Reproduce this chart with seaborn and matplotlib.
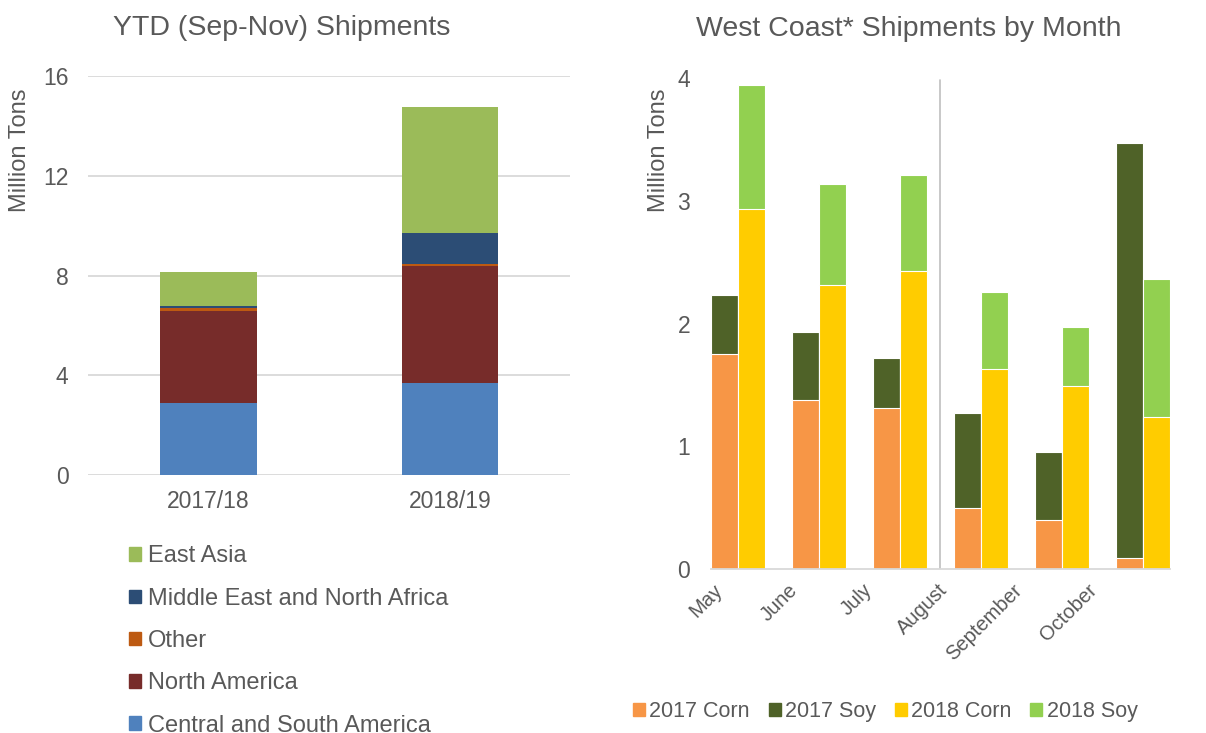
import matplotlib
matplotlib.use("Agg")
import matplotlib.pyplot as plt
from matplotlib.patches import Patch
from matplotlib.transforms import ScaledTranslation
import seaborn as sns
import pandas as pd
import numpy as np

# left chart: YTD shipments by destination (million tons)
seasons = ["2017/18", "2018/19"]
regions = ["Central and South America", "North America", "Other",
           "Middle East and North Africa", "East Asia"]
csa = [2.89, 3.68]
north_america = [3.70, 4.71]
other = [0.12, 0.07]
mena = [0.07, 1.24]
east_asia = [1.35, 5.05]
region_colors = ["#4F81BD", "#772C2A", "#BD5A12", "#2C4D75", "#9BBB59"]

# right chart: west coast shipments by month (million tons)
months = ["May", "June", "July", "August", "September", "October"]
corn_2017 = [1.75, 1.38, 1.31, 0.50, 0.40, 0.09]
soy_2017 = [0.48, 0.55, 0.41, 0.77, 0.55, 3.38]
corn_2018 = [2.93, 2.31, 2.43, 1.63, 1.49, 1.24]
soy_2018 = [1.01, 0.83, 0.78, 0.63, 0.48, 1.12]

grey = "#595959"
sns.set_theme(style="white")
plt.rcParams["font.family"] = ["Liberation Sans", "DejaVu Sans"]
plt.rcParams["text.color"] = grey
plt.rcParams["xtick.color"] = grey
plt.rcParams["ytick.color"] = grey
plt.rcParams["axes.labelcolor"] = grey

fig = plt.figure(figsize=(12.06, 7.33), dpi=100)
ax1 = fig.add_axes([0.073, 0.352, 0.400, 0.544])
ax2 = fig.add_axes([0.5896, 0.2237, 0.3804, 0.6699])

# ---- left: stacked bars drawn as overlapping cumulative sums
layers = [csa, north_america, other, mena, east_asia]
cum = np.cumsum(np.array(layers), axis=0)
for i in range(len(layers) - 1, -1, -1):
    sns.barplot(x=seasons, y=cum[i], color=region_colors[i], width=0.4,
                saturation=1, ax=ax1, edgecolor="none", linewidth=0)

ax1.set_ylim(0, 16)
ax1.set_xlim(-0.5, 1.5)
ax1.set_yticks([0, 4, 8, 12, 16])
ax1.yaxis.grid(True, color="#D9D9D9", linewidth=1.3)
ax1.set_axisbelow(True)
for s in ax1.spines.values():
    s.set_visible(False)
ax1.tick_params(axis="both", length=0, labelsize=16.5)
ax1.tick_params(axis="x", pad=11)
ax1.tick_params(axis="y", pad=14)
ax1.set_ylabel("Million Tons", fontsize=17)
ax1.yaxis.set_label_coords(-0.118, 0.815)
ax1.set_xlabel("")
ax1.set_title("YTD (Sep-Nov) Shipments", fontsize=20.5, color=grey, x=0.402, pad=30)

handles1 = [Patch(color=region_colors[i], label=regions[i]) for i in range(4, -1, -1)]
fig.legend(handles=handles1, loc="upper left", bbox_to_anchor=(0.0896, 0.285),
           frameon=False, fontsize=17, handlelength=0.5, handleheight=0.5,
           handletextpad=0.3, labelspacing=0.86, labelcolor=grey)

# ---- right: grouped stacked bars
df_top = pd.DataFrame({
    "month": months * 2,
    "year": ["2017"] * 6 + ["2018"] * 6,
    "value": list(np.add(corn_2017, soy_2017)) + list(np.add(corn_2018, soy_2018)),
})
df_corn = pd.DataFrame({
    "month": months * 2,
    "year": ["2017"] * 6 + ["2018"] * 6,
    "value": corn_2017 + corn_2018,
})
sns.barplot(data=df_top, x="month", y="value", hue="year",
            palette=["#4F6228", "#92D050"], width=0.67, saturation=1,
            edgecolor="white", linewidth=0.8, legend=False, ax=ax2)
sns.barplot(data=df_corn, x="month", y="value", hue="year",
            palette=["#F79646", "#FFCC00"], width=0.67, saturation=1,
            edgecolor="white", linewidth=0.8, legend=False, ax=ax2)

ax2.set_ylim(0, 4)
ax2.set_xlim(-0.33, 5.33)
ax2.set_yticks([0, 1, 2, 3, 4])
ax2.axvline(2.5, color="#BFBFBF", linewidth=1.2, ymax=0.996)
for s in ["top", "right", "left"]:
    ax2.spines[s].set_visible(False)
ax2.spines["bottom"].set_color("#D9D9D9")
ax2.spines["bottom"].set_linewidth(1.3)
ax2.tick_params(axis="both", length=0, labelsize=16.5)
ax2.tick_params(axis="y", pad=15)
ax2.set_xticks(range(len(months)))
ax2.set_xticklabels(months, rotation=45, ha="right", rotation_mode="anchor", fontsize=14.5)
ax2.tick_params(axis="x", pad=6)
# the month labels sit a little left of their bar groups, drifting further right to left
for i, lab in enumerate(ax2.get_xticklabels()):
    dx = (-25 - 6.2 * i) / 100
    lab.set_transform(lab.get_transform() + ScaledTranslation(dx, -0.03, fig.dpi_scale_trans))
ax2.set_ylabel("Million Tons", fontsize=17)
ax2.yaxis.set_label_coords(-0.090, 0.853)
ax2.set_xlabel("")
ax2.set_title("West Coast* Shipments by Month", fontsize=20.5, color=grey, x=0.431, pad=30)

handles2 = [Patch(color=c, label=l) for c, l in zip(
    ["#F79646", "#4F6228", "#FFCC00", "#92D050"],
    ["2017 Corn", "2017 Soy", "2018 Corn", "2018 Soy"])]
fig.legend(handles=handles2, loc="center left", bbox_to_anchor=(0.509, 0.029),
           ncol=4, frameon=False, fontsize=15.5, handlelength=0.55, handleheight=0.55,
           handletextpad=0.2, columnspacing=0.88, labelcolor=grey)

fig.savefig("out.png", dpi=100)
